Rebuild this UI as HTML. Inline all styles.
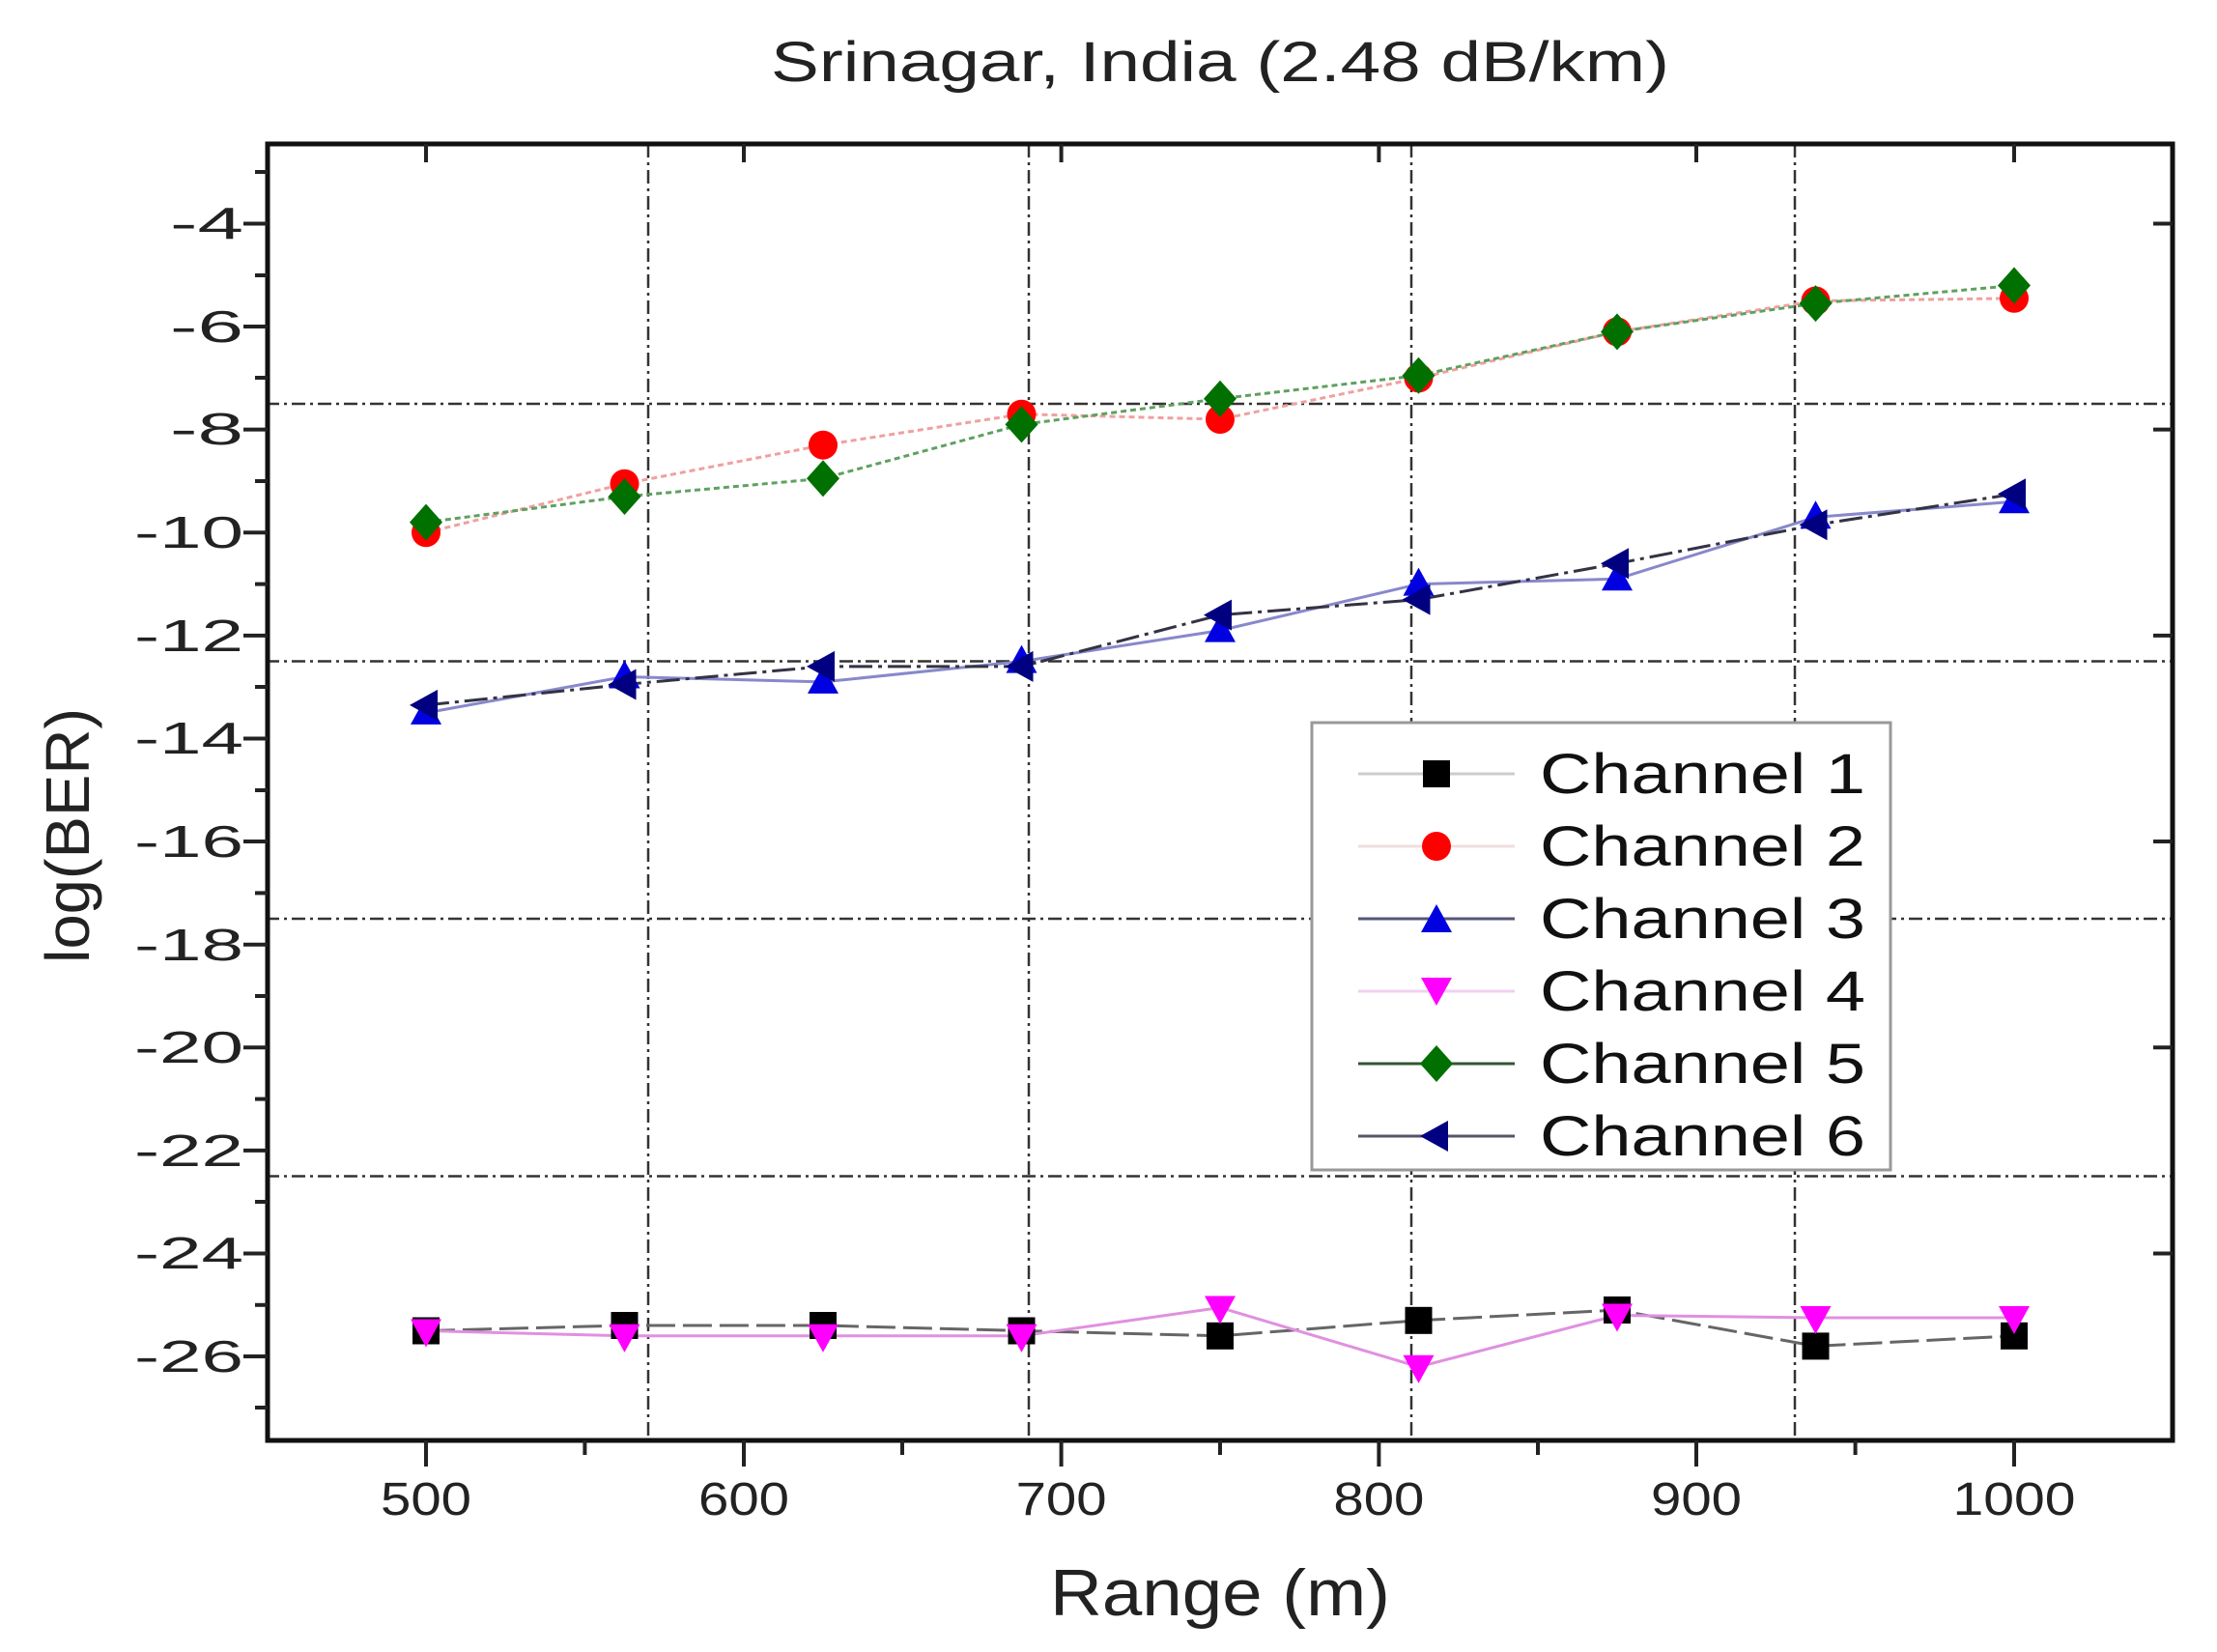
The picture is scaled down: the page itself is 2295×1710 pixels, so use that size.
<!DOCTYPE html>
<html><head><meta charset="utf-8"><style>
html,body{margin:0;padding:0;background:#fff}
svg{display:block;font-family:"Liberation Sans",Arial,sans-serif}
</style></head><body>
<svg width="2295" height="1710" viewBox="0 0 2295 1710" xmlns="http://www.w3.org/2000/svg">
<defs>
<rect id="sq" x="-14" y="-14" width="28" height="28" fill="#000"/>
<circle id="ci" r="15" fill="#f00"/>
<polygon id="tu" points="0,-17 16,12 -16,12" fill="#0000e0"/>
<polygon id="td" points="0,17 16,-12 -16,-12" fill="#ff00ff"/>
<polygon id="dm" points="0,-19 17,0 0,19 -17,0" fill="#007000"/>
<polygon id="tl" points="-17,0 12,-16 12,16" fill="#000080"/>
</defs>
<text x="1263" y="84" font-size="58" text-anchor="middle" fill="#222" textLength="930" lengthAdjust="spacingAndGlyphs">Srinagar, India (2.48 dB/km)</text>
<!-- grid -->
<g stroke="#333" stroke-width="2.5" stroke-dasharray="14,5,3,5">
<line x1="671" y1="149" x2="671" y2="1491"/>
<line x1="1065" y1="149" x2="1065" y2="1491"/>
<line x1="1461" y1="149" x2="1461" y2="1491"/>
<line x1="1858" y1="149" x2="1858" y2="1491"/>
<line x1="275" y1="418" x2="2249" y2="418"/>
<line x1="275" y1="684.5" x2="2249" y2="684.5"/>
<line x1="275" y1="951" x2="2249" y2="951"/>
<line x1="275" y1="1217.5" x2="2249" y2="1217.5"/>
</g>
<!-- frame -->
<rect x="277" y="149" width="1972" height="1342" fill="none" stroke="#111" stroke-width="5"/>
<!-- ticks -->
<g stroke="#222" stroke-width="4">
<line x1="252" y1="231.5" x2="277" y2="231.5"/><line x1="252" y1="338" x2="277" y2="338"/><line x1="252" y1="444.6" x2="277" y2="444.6"/><line x1="252" y1="551.3" x2="277" y2="551.3"/><line x1="252" y1="657.9" x2="277" y2="657.9"/><line x1="252" y1="764.5" x2="277" y2="764.5"/><line x1="252" y1="871" x2="277" y2="871"/><line x1="252" y1="977.7" x2="277" y2="977.7"/><line x1="252" y1="1084.3" x2="277" y2="1084.3"/><line x1="252" y1="1190.9" x2="277" y2="1190.9"/><line x1="252" y1="1297.5" x2="277" y2="1297.5"/><line x1="252" y1="1404" x2="277" y2="1404"/>
<line x1="264" y1="178" x2="277" y2="178"/><line x1="264" y1="285" x2="277" y2="285"/><line x1="264" y1="391" x2="277" y2="391"/><line x1="264" y1="498" x2="277" y2="498"/><line x1="264" y1="604.6" x2="277" y2="604.6"/><line x1="264" y1="711" x2="277" y2="711"/><line x1="264" y1="818" x2="277" y2="818"/><line x1="264" y1="924.4" x2="277" y2="924.4"/><line x1="264" y1="1031" x2="277" y2="1031"/><line x1="264" y1="1137.6" x2="277" y2="1137.6"/><line x1="264" y1="1244" x2="277" y2="1244"/><line x1="264" y1="1350.8" x2="277" y2="1350.8"/><line x1="264" y1="1457" x2="277" y2="1457"/>
<line x1="2249" y1="231.5" x2="2229" y2="231.5"/><line x1="2249" y1="444.6" x2="2229" y2="444.6"/><line x1="2249" y1="657.9" x2="2229" y2="657.9"/><line x1="2249" y1="871" x2="2229" y2="871"/><line x1="2249" y1="1084.3" x2="2229" y2="1084.3"/><line x1="2249" y1="1297.5" x2="2229" y2="1297.5"/>
<line x1="441" y1="1491" x2="441" y2="1518"/><line x1="770" y1="1491" x2="770" y2="1518"/><line x1="1098.6" y1="1491" x2="1098.6" y2="1518"/><line x1="1427.4" y1="1491" x2="1427.4" y2="1518"/><line x1="1756" y1="1491" x2="1756" y2="1518"/><line x1="2085" y1="1491" x2="2085" y2="1518"/>
<line x1="605.4" y1="1491" x2="605.4" y2="1506"/><line x1="934" y1="1491" x2="934" y2="1506"/><line x1="1263" y1="1491" x2="1263" y2="1506"/><line x1="1592" y1="1491" x2="1592" y2="1506"/><line x1="1920.6" y1="1491" x2="1920.6" y2="1506"/>
<line x1="441" y1="149" x2="441" y2="168"/><line x1="770" y1="149" x2="770" y2="168"/><line x1="1098.6" y1="149" x2="1098.6" y2="168"/><line x1="1427.4" y1="149" x2="1427.4" y2="168"/><line x1="1756" y1="149" x2="1756" y2="168"/><line x1="2085" y1="149" x2="2085" y2="168"/>
</g>
<g font-size="46" fill="#222" text-anchor="end" lengthAdjust="spacingAndGlyphs">
<text x="252" y="247" textLength="76" lengthAdjust="spacingAndGlyphs">-4</text><text x="252" y="354" textLength="76" lengthAdjust="spacingAndGlyphs">-6</text><text x="252" y="460" textLength="76" lengthAdjust="spacingAndGlyphs">-8</text><text x="252" y="567" textLength="113" lengthAdjust="spacingAndGlyphs">-10</text><text x="252" y="674" textLength="113" lengthAdjust="spacingAndGlyphs">-12</text><text x="252" y="780" textLength="113" lengthAdjust="spacingAndGlyphs">-14</text><text x="252" y="887" textLength="113" lengthAdjust="spacingAndGlyphs">-16</text><text x="252" y="994" textLength="113" lengthAdjust="spacingAndGlyphs">-18</text><text x="252" y="1100" textLength="113" lengthAdjust="spacingAndGlyphs">-20</text><text x="252" y="1207" textLength="113" lengthAdjust="spacingAndGlyphs">-22</text><text x="252" y="1313" textLength="113" lengthAdjust="spacingAndGlyphs">-24</text><text x="252" y="1420" textLength="113" lengthAdjust="spacingAndGlyphs">-26</text>
</g>
<g font-size="48" fill="#222" text-anchor="middle">
<text x="441" y="1568" textLength="94" lengthAdjust="spacingAndGlyphs">500</text><text x="770" y="1568" textLength="94" lengthAdjust="spacingAndGlyphs">600</text><text x="1098.6" y="1568" textLength="94" lengthAdjust="spacingAndGlyphs">700</text><text x="1427.4" y="1568" textLength="94" lengthAdjust="spacingAndGlyphs">800</text><text x="1756" y="1568" textLength="94" lengthAdjust="spacingAndGlyphs">900</text><text x="2085" y="1568" textLength="127" lengthAdjust="spacingAndGlyphs">1000</text>
</g>
<text x="1263" y="1672" font-size="68" text-anchor="middle" fill="#222" textLength="352" lengthAdjust="spacingAndGlyphs">Range (m)</text>
<text transform="translate(92,865) rotate(-90)" font-size="64" text-anchor="middle" fill="#222" textLength="264" lengthAdjust="spacingAndGlyphs">log(BER)</text>
<!-- series -->
<g fill="none" stroke-width="3">
<polyline stroke="#666" stroke-dasharray="30,8" points="441,1377.5 646.5,1372 852,1372 1057.5,1377.5 1263,1382.8 1468.5,1366.8 1674,1356 1879.5,1393.4 2085,1382.8"/>
<polyline stroke="#f0a0a0" stroke-dasharray="6,4" points="441,551.3 646.5,500.7 852,460.7 1057.5,428.7 1263,434 1468.5,391.4 1674,343.4 1879.5,311.5 2085,308.8"/>
<polyline stroke="#8888cc" points="441,737.9 646.5,700.5 852,705.9 1057.5,684.6 1263,652.6 1468.5,604.6 1674,599.3 1879.5,535.3 2085,519.3"/>
<polyline stroke="#e090e0" points="441,1377.5 646.5,1382.8 852,1382.8 1057.5,1382.8 1263,1353.5 1468.5,1414.8 1674,1361.5 1879.5,1364 2085,1364"/>
<polyline stroke="#60a060" stroke-dasharray="6,4" points="441,540.6 646.5,514 852,495.3 1057.5,439.4 1263,412.7 1468.5,388.7 1674,343.4 1879.5,314.1 2085,295.5"/>
<polyline stroke="#334" stroke-dasharray="24,6,4,6" points="441,729.9 646.5,708.5 852,689.9 1057.5,689.9 1263,636.6 1468.5,620.6 1674,583.3 1879.5,543.3 2085,511.3"/>
</g>
<g>
<use href="#sq" x="441" y="1377.5"/><use href="#sq" x="646.5" y="1372"/><use href="#sq" x="852" y="1372"/><use href="#sq" x="1057.5" y="1377.5"/><use href="#sq" x="1263" y="1382.8"/><use href="#sq" x="1468.5" y="1366.8"/><use href="#sq" x="1674" y="1356"/><use href="#sq" x="1879.5" y="1393.4"/><use href="#sq" x="2085" y="1382.8"/>
<use href="#ci" x="441" y="551.3"/><use href="#ci" x="646.5" y="500.7"/><use href="#ci" x="852" y="460.7"/><use href="#ci" x="1057.5" y="428.7"/><use href="#ci" x="1263" y="434"/><use href="#ci" x="1468.5" y="391.4"/><use href="#ci" x="1674" y="343.4"/><use href="#ci" x="1879.5" y="311.5"/><use href="#ci" x="2085" y="308.8"/>
<use href="#tu" x="441" y="737.9"/><use href="#tu" x="646.5" y="700.5"/><use href="#tu" x="852" y="705.9"/><use href="#tu" x="1057.5" y="684.6"/><use href="#tu" x="1263" y="652.6"/><use href="#tu" x="1468.5" y="604.6"/><use href="#tu" x="1674" y="599.3"/><use href="#tu" x="1879.5" y="535.3"/><use href="#tu" x="2085" y="519.3"/>
<use href="#td" x="441" y="1377.5"/><use href="#td" x="646.5" y="1382.8"/><use href="#td" x="852" y="1382.8"/><use href="#td" x="1057.5" y="1382.8"/><use href="#td" x="1263" y="1353.5"/><use href="#td" x="1468.5" y="1414.8"/><use href="#td" x="1674" y="1361.5"/><use href="#td" x="1879.5" y="1364"/><use href="#td" x="2085" y="1364"/>
<use href="#dm" x="441" y="540.6"/><use href="#dm" x="646.5" y="514"/><use href="#dm" x="852" y="495.3"/><use href="#dm" x="1057.5" y="439.4"/><use href="#dm" x="1263" y="412.7"/><use href="#dm" x="1468.5" y="388.7"/><use href="#dm" x="1674" y="343.4"/><use href="#dm" x="1879.5" y="314.1"/><use href="#dm" x="2085" y="295.5"/>
<use href="#tl" x="441" y="729.9"/><use href="#tl" x="646.5" y="708.5"/><use href="#tl" x="852" y="689.9"/><use href="#tl" x="1057.5" y="689.9"/><use href="#tl" x="1263" y="636.6"/><use href="#tl" x="1468.5" y="620.6"/><use href="#tl" x="1674" y="583.3"/><use href="#tl" x="1879.5" y="543.3"/><use href="#tl" x="2085" y="511.3"/>
</g>
<!-- legend -->
<rect x="1358" y="748" width="599" height="463" fill="#fff" stroke="#999" stroke-width="3"/>
<g stroke-width="3">
<line x1="1406" y1="801" x2="1568" y2="801" stroke="#ccc"/>
<line x1="1406" y1="876" x2="1568" y2="876" stroke="#f0dede"/>
<line x1="1406" y1="951" x2="1568" y2="951" stroke="#555577"/>
<line x1="1406" y1="1026" x2="1568" y2="1026" stroke="#f0d0f0"/>
<line x1="1406" y1="1101" x2="1568" y2="1101" stroke="#335533"/>
<line x1="1406" y1="1176" x2="1568" y2="1176" stroke="#555566"/>
</g>
<use href="#sq" x="1487" y="801"/><use href="#ci" x="1487" y="876"/><use href="#tu" x="1487" y="953"/>
<use href="#td" x="1487" y="1024"/><use href="#dm" x="1487" y="1101"/><use href="#tl" x="1487" y="1176"/>
<g font-size="58" fill="#111">
<text x="1594" y="821" textLength="337" lengthAdjust="spacingAndGlyphs">Channel 1</text><text x="1594" y="896" textLength="337" lengthAdjust="spacingAndGlyphs">Channel 2</text><text x="1594" y="971" textLength="337" lengthAdjust="spacingAndGlyphs">Channel 3</text><text x="1594" y="1046" textLength="337" lengthAdjust="spacingAndGlyphs">Channel 4</text><text x="1594" y="1121" textLength="337" lengthAdjust="spacingAndGlyphs">Channel 5</text><text x="1594" y="1196" textLength="337" lengthAdjust="spacingAndGlyphs">Channel 6</text>
</g>
</svg>
</body></html>
